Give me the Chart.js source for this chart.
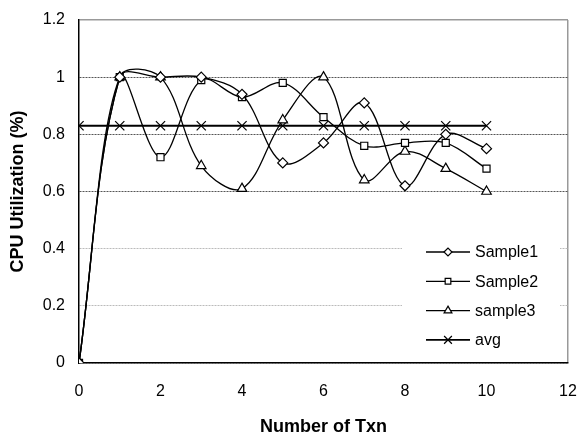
<!DOCTYPE html>
<html lang="en">
  <head>
    <meta charset="UTF-8">
    <title>CPU Utilization</title>
    <script src="https://cdn.jsdelivr.net/npm/chart.js@4.4.0/dist/chart.umd.min.js"></script>
    <style>
      html, body { margin: 0; padding: 0; background: #fff; }
      #wrap { width: 588px; height: 435px; }
    </style>
  </head>
  <body>
<div id="wrap"><canvas id="cpu"></canvas></div>
<script>
// values
var txn = [0, 1, 2, 3, 4, 5, 6, 7, 8, 9, 10];
var sample1 = [0, 1.0, 1.0, 1.0, 0.94, 0.70, 0.77, 0.91, 0.62, 0.80, 0.75];
var sample2 = [0, 1.0, 0.72, 0.99, 0.93, 0.98, 0.86, 0.76, 0.77, 0.77, 0.68];
var sample3 = [0, 1.0, 1.0, 0.69, 0.61, 0.85, 1.0, 0.64, 0.74, 0.68, 0.60];
var avg = [0.83, 0.83, 0.83, 0.83, 0.83, 0.83, 0.83, 0.83, 0.83, 0.83, 0.83];
var seriesNames = ['Sample1', 'Sample2', 'sample3', 'avg'];
var yTicks = [0, 0.2, 0.4, 0.6, 0.8, 1, 1.2];
var xTicks = [0, 2, 4, 6, 8, 10, 12];

var FONT = '"Liberation Sans", Arial, sans-serif';

function pts(ys) {
  return txn.map(function(x, i) { return {x: x, y: ys[i]}; });
}

function line(name, ys, style, r, w) {
  return {
    label: name,
    data: pts(ys),
    borderColor: '#000',
    borderWidth: w,
    backgroundColor: '#fff',
    pointStyle: style,
    pointRadius: r,
    pointBorderWidth: 1.2,
    pointBackgroundColor: '#fff',
    pointBorderColor: '#000',
    tension: 0.35
  };
}

var styles = ['rectRot', 'rect', 'triangle', 'crossRot'];
var radii = [5, 5, 5.5, 6.5];

// legend drawn inside the plot like the original
var boxLegend = {
  id: 'boxLegend',
  afterDraw: function(chart) {
    var ctx = chart.ctx;
    var a = chart.chartArea;
    var left = a.right - 166, top = a.bottom - 131;
    ctx.save();
    ctx.fillStyle = '#fff';
    ctx.fillRect(left, top, 158, 123);
    ctx.font = '16px ' + FONT;
    ctx.textBaseline = 'middle';
    for (var i = 0; i < seriesNames.length; i++) {
      var y = top + 20 + i * 29.3;
      ctx.strokeStyle = '#000';
      ctx.lineWidth = i == 3 ? 1.6 : 1.3;
      ctx.beginPath();
      ctx.moveTo(left + 24, y);
      ctx.lineTo(left + 68, y);
      ctx.stroke();
      ctx.fillStyle = '#fff';
      ctx.lineWidth = 1.2;
      Chart.helpers.drawPoint(ctx, {pointStyle: styles[i], radius: radii[i] - 1, rotation: 0, borderWidth: 1.2}, left + 46, y);
      ctx.fillStyle = '#000';
      ctx.fillText(seriesNames[i], left + 73, y + 1);
    }
    ctx.restore();
  }
};

var ctx = document.getElementById('cpu').getContext('2d');
var chart = new Chart(ctx, {
  type: 'line',
  data: {
    datasets: [
      line(seriesNames[0], sample1, styles[0], radii[0], 1.3),
      line(seriesNames[1], sample2, styles[1], radii[1], 1.3),
      line(seriesNames[2], sample3, styles[2], radii[2], 1.3),
      line(seriesNames[3], avg, styles[3], radii[3], 1.8)
    ]
  },
  options: {
    responsive: true,
    maintainAspectRatio: false,
    animation: false,
    layout: { padding: { left: 0, top: 20, right: 20, bottom: 0 } },
    plugins: {
      legend: { display: false },
      tooltip: { enabled: false }
    },
    scales: {
      x: {
        type: 'linear',
        min: 0,
        max: 12,
        afterBuildTicks: function(s) { s.ticks = xTicks.map(function(v) { return {value: v}; }); },
        afterFit: function(s) {
          s.height = 72;
          s.paddingLeft = 0;
          s.paddingRight = 0;
        },
        grid: {
          drawTicks: false,
          color: function(c) { return c.tick && c.tick.value == 12 ? '#999' : 'rgba(0,0,0,0)'; },
          lineWidth: 1.5
        },
        border: { color: '#000', width: 1.5 },
        ticks: {
          color: '#000',
          padding: 19,
          maxRotation: 0,
          font: { family: FONT, size: 16 }
        },
        title: {
          display: true,
          text: 'Number of Txn',
          color: '#000',
          padding: { top: 0, bottom: -3 },
          font: { family: FONT, size: 18, weight: 'bold' }
        }
      },
      y: {
        min: 0,
        max: 1.2,
        afterBuildTicks: function(s) { s.ticks = yTicks.map(function(v) { return {value: v}; }); },
        afterFit: function(s) {
          s.width = 79;
          s.paddingTop = 0;
          s.paddingBottom = 0;
        },
        grid: {
          drawTicks: false,
          color: function(c) {
            var v = c.tick ? c.tick.value : 0;
            if (v > 1.1) return '#999';
            if (v > 0.5) return '#555';
            return '#bbb';
          },
          lineWidth: function(c) { return c.tick && c.tick.value > 1.1 ? 1.5 : 1; }
        },
        border: {
          color: '#000',
          width: 1.5,
          dash: function(c) { return c.tick && c.tick.value > 1.1 ? [] : [2, 1]; }
        },
        ticks: {
          color: '#000',
          padding: 14,
          callback: function(v) { return String(v); },
          font: { family: FONT, size: 16 }
        },
        title: {
          display: true,
          text: 'CPU Utilization (%)',
          color: '#000',
          padding: { top: 7, bottom: 4 },
          font: { family: FONT, size: 18, weight: 'bold' }
        }
      }
    }
  },
  plugins: [boxLegend]
});
</script>
  </body>
</html>
